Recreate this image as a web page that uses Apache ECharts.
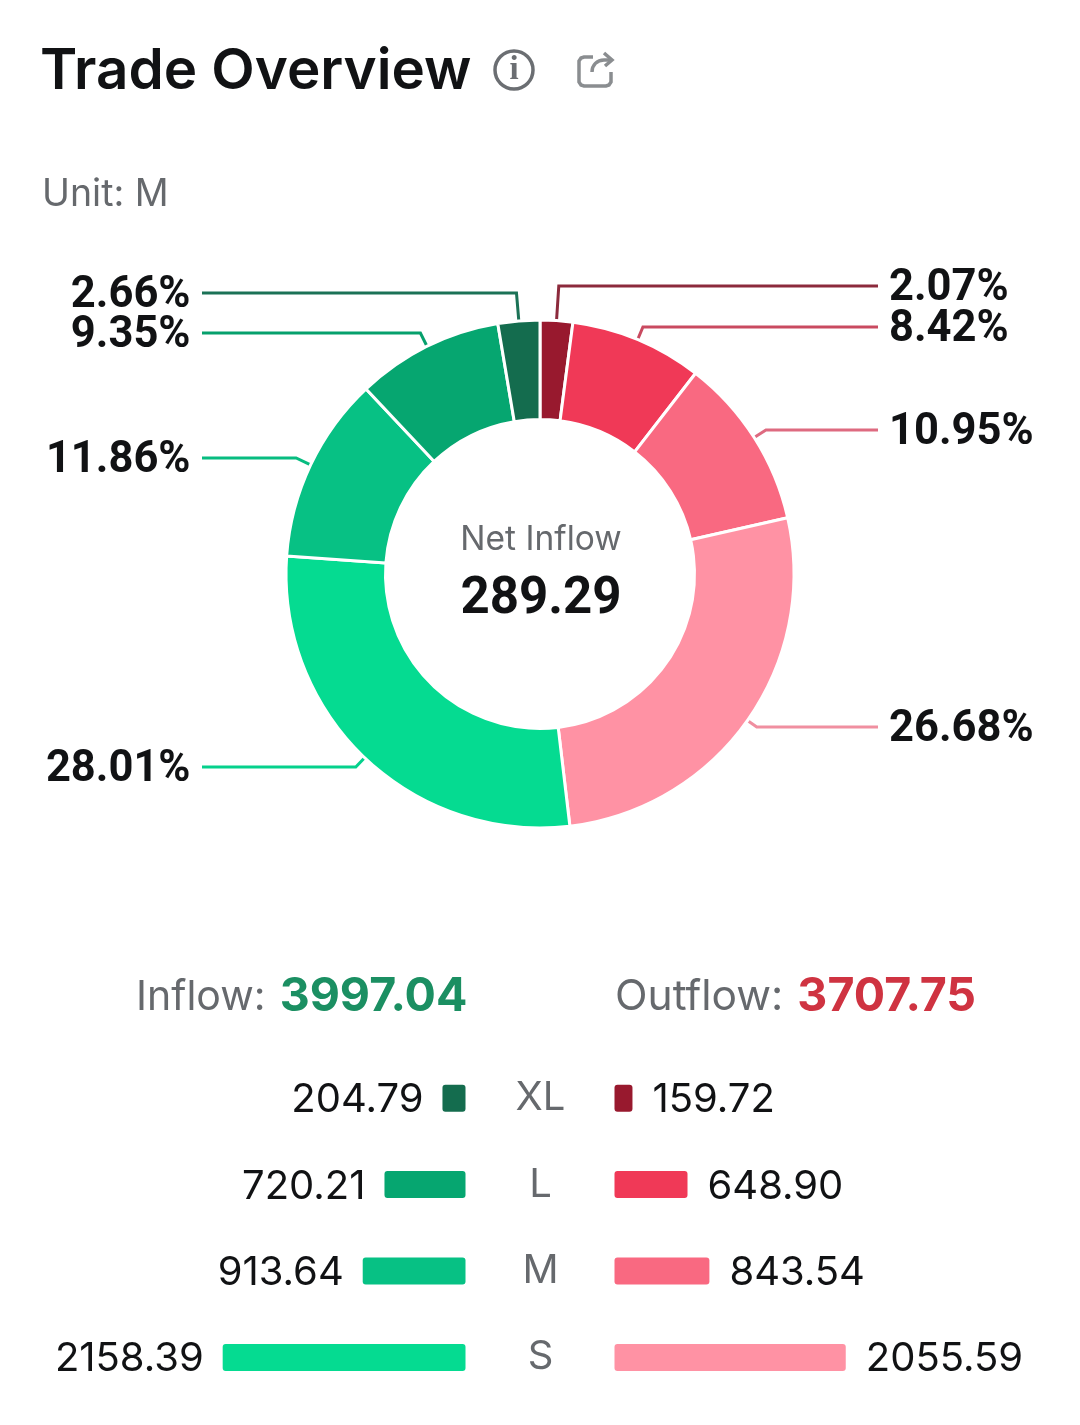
<!DOCTYPE html>
<html><head><meta charset="utf-8">
<script src="https://cdn.jsdelivr.net/npm/echarts@6/dist/echarts.min.js"></script>
<style>html,body{margin:0;padding:0;background:#fff}#c{width:1080px;height:1425px}</style>
</head><body><div id="c"></div>
<script>
const sizes = ['XL','L','M','S'];
const inflow = [204.79,720.21,913.64,2158.39];
const outflow = [159.72,648.90,843.54,2055.59];
const inflowLabels = ['204.79','720.21','913.64','2158.39'];
const outflowLabels = ['159.72','648.90','843.54','2055.59'];
const inflowColors = ['#146C4E','#06A670','#07C184','#05DB91'];
const outflowColors = ['#98192E','#F03957','#F96981','#FF92A4'];
const totalIn = '3997.04', totalOut = '3707.75', netInflow = '289.29';

const cx = 540, cy = 574;
// ring runs clockwise from the top: outflow XL..S, then inflow S..XL
const ringValues = outflow.concat(inflow.slice().reverse());
const ringColors = outflowColors.concat(inflowColors.slice().reverse());
const leaderColors = ['#8C2A3C','#C94A60','#DE6A80','#F08FA0','#05D18C','#07BC80','#06A06C','#1B7256'];
const lineRows = [286,327,430,727,767,458,333,293];
const ink = '#111214', grey = '#66696d', iconGrey = '#8a8d90';

const chart = echarts.init(document.getElementById('c'), null, {renderer:'canvas'});
chart.setOption({
  animation:false,
  backgroundColor:'#fff',
  title:[
    {text:'Trade Overview',left:40,top:44,padding:0,textStyle:{fontFamily:'Inter',fontWeight:600,fontSize:56.5,color:ink}},
    {text:'Unit: M',left:42,top:176,padding:0,textStyle:{fontFamily:'Inter',fontWeight:400,fontSize:37.5,color:grey}},
    {text:'Net Inflow',left:541,top:523,padding:0,textAlign:'center',textStyle:{fontFamily:'Inter',fontWeight:400,fontSize:33.5,color:grey}},
    {text:netInflow,left:541,top:575,padding:0,textAlign:'center',textStyle:{fontFamily:'Roboto',fontWeight:700,fontSize:51,color:ink}},
    {text:'{a|Inflow:}  {b|'+totalIn+'}',left:136,top:974,padding:0,textStyle:{fontSize:20,rich:{
      a:{fontFamily:'Inter',fontWeight:400,fontSize:41,color:grey},
      b:{fontFamily:'Inter',fontWeight:700,fontSize:46.5,color:'#1B8F62',padding:[0,0,0,3]}}}},
    {text:'{a|Outflow:}  {b|'+totalOut+'}',left:615,top:974,padding:0,textStyle:{fontSize:20,rich:{
      a:{fontFamily:'Inter',fontWeight:400,fontSize:42.5,color:grey},
      b:{fontFamily:'Inter',fontWeight:700,fontSize:46.5,color:'#CF3341',padding:[0,0,0,3]}}}}
  ],
  graphic:[
    {type:'circle',shape:{cx:514,cy:70,r:19},style:{fill:'none',stroke:'#6b6e72',lineWidth:3.5}},
    {type:'text',x:514,y:70,style:{text:'i',fontFamily:'Liberation Serif',fontWeight:'bold',fontSize:33,fill:'#6b6e72',align:'center',verticalAlign:'middle'}},
    {type:'polyline',shape:{points:[[593,57],[584,57],[581,58],[579,61],[579,82],[581,85],[584,86],[606,86],[609,85],[611,82],[611,72]]},style:{fill:'none',stroke:iconGrey,lineWidth:3.5}},
    {type:'bezierCurve',shape:{x1:592,y1:72,cpx1:592,cpy1:65,cpx2:597,cpy2:60,x2:604,y2:60},style:{fill:'none',stroke:iconGrey,lineWidth:3.5}},
    {type:'polyline',shape:{points:[[604,60],[611,60]]},style:{fill:'none',stroke:iconGrey,lineWidth:3.5}},
    {type:'polyline',shape:{points:[[604,53],[612,60],[605,66]]},style:{fill:'none',stroke:iconGrey,lineWidth:3.5}}
  ],
  grid:[
    {left:184.25,top:1055,width:281.25,height:345.6},
    {left:614.5,top:1055,width:281.25,height:345.6}
  ],
  xAxis:[
    {gridIndex:0,type:'value',min:0,max:2500,inverse:true,show:false},
    {gridIndex:1,type:'value',min:0,max:2500,show:false}
  ],
  yAxis:[
    {gridIndex:0,type:'category',data:sizes,inverse:true,axisLine:{show:false},axisTick:{show:false},axisLabel:{show:false}},
    {gridIndex:1,type:'category',data:sizes,inverse:true,position:'left',axisLine:{show:false},axisTick:{show:false},
     axisLabel:{show:true,margin:74,align:'center',fontFamily:'Inter',fontSize:40,color:grey,padding:[6,0,0,0]}}
  ],
  series:[
    {type:'pie',center:[cx,cy],radius:[154.5,254],startAngle:90,clockwise:true,percentPrecision:2,silent:true,
      avoidLabelOverlap:false,
      data:ringValues.map((v,i)=>({value:v,name:String(i),itemStyle:{color:ringColors[i]},labelLine:{lineStyle:{color:leaderColors[i]}}})),
      itemStyle:{borderColor:'#fff',borderWidth:3},
      label:{show:true,position:'outside',fontFamily:'Roboto',fontWeight:700,fontSize:43.5,color:ink,formatter:p=>p.percent.toFixed(2)+'%'},
      labelLine:{show:true,length:14,length2:40,smooth:false,lineStyle:{width:3}},
      labelLayout(p){
        const i=p.dataIndex, y=lineRows[i], right=i<4;
        const s=p.labelLinePoints[0];
        const t=(y-cy)/(s[1]-cy);
        const elbowX=cx+(s[0]-cx)*t;
        const endX=right?878:202;
        return {x:right?889:190.5,y:y+3,align:right?'left':'right',verticalAlign:'middle',
          labelLinePoints:[s,[elbowX,y],[endX,y]]};
      }
    },
    {type:'bar',xAxisIndex:0,yAxisIndex:0,barWidth:27,
      data:inflow.map((v,i)=>({value:v,itemStyle:{color:inflowColors[i],borderRadius:3}})),
      label:{show:true,position:'left',distance:19,offset:[0,2],fontFamily:'Inter',fontSize:40,color:ink,formatter:p=>inflowLabels[p.dataIndex]}},
    {type:'bar',xAxisIndex:1,yAxisIndex:1,barWidth:27,
      data:outflow.map((v,i)=>({value:v,itemStyle:{color:outflowColors[i],borderRadius:3}})),
      label:{show:true,position:'right',distance:20,offset:[0,2],fontFamily:'Inter',fontSize:40,color:ink,formatter:p=>outflowLabels[p.dataIndex]}}
  ]
});
</script></body></html>
